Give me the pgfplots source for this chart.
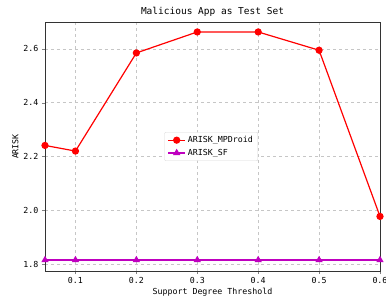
\documentclass[border=0pt]{standalone}
\usepackage{pgfplots}
\pgfplotsset{compat=1.18}
\usepackage{fontspec}
\setmainfont{DejaVu Sans Mono}
\definecolor{mplm}{rgb}{0.75,0,0.75}
\definecolor{mplr}{rgb}{1,0,0}
\begin{document}
\begin{tikzpicture}
\path[use as bounding box] (-45pt,-32pt) rectangle (341pt,271pt);
\begin{axis}[
  at={(0pt,0pt)}, anchor=south west,
  scale only axis,
  width=335pt, height=249pt,
  xmin=0.05, xmax=0.6, ymin=1.774, ymax=2.70,
  xtick={0.1,0.2,0.3,0.4,0.5,0.6},
  ytick={1.8,2.0,2.2,2.4,2.6},
  /pgf/number format/assume math mode=true,
  xticklabel style={/pgf/number format/fixed,/pgf/number format/precision=1,/pgf/number format/fixed zerofill},
  yticklabel style={/pgf/number format/fixed,/pgf/number format/precision=1,/pgf/number format/fixed zerofill},
  tick label style={font=\fontsize{8.3}{9}\selectfont},
  label style={font=\fontsize{8.3}{9}\selectfont},
  title style={font=\fontsize{9.5}{10}\selectfont, yshift=-4pt},
  title={Malicious App as Test Set},
  xlabel={Support Degree Threshold},
  ylabel={ARISK},
  xlabel style={yshift=3pt},
  ylabel style={yshift=-2pt},
  grid=major,
  major grid style={gray!45, dashed},
  tick align=outside,
  tick pos=left,
  major tick length=3pt,
  axis line style={black!80},
  legend style={at={(0.496,0.5)}, anchor=center, font=\fontsize{8.3}{9}\selectfont, draw=black!15, rounded corners=1pt, row sep=1pt},
  legend cell align=left,
  clip=false,
]
\addplot[mplr, line width=1.2pt, mark=*, mark size=3pt] coordinates {
(0.05,2.241) (0.1,2.220) (0.2,2.585) (0.3,2.663) (0.4,2.663) (0.5,2.595) (0.6,1.977)
};
\addlegendentry{ARISK\_MPDroid}
\addplot[mplm, line width=1.2pt, mark=triangle*, mark size=3pt] coordinates {
(0.05,1.815) (0.1,1.815) (0.2,1.815) (0.3,1.815) (0.4,1.815) (0.5,1.815) (0.6,1.815)
};
\addlegendentry{ARISK\_SF}
\end{axis}
\end{tikzpicture}
\end{document}
